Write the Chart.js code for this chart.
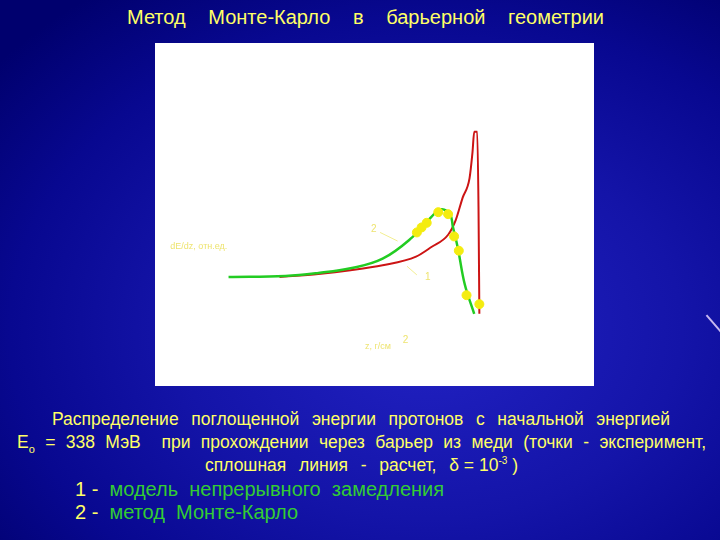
<!DOCTYPE html>
<html>
<head>
<meta charset="utf-8">
<script src="https://cdn.jsdelivr.net/npm/chart.js@4"></script>
<style>
  html, body { margin: 0; padding: 0; }
  body {
    width: 720px; height: 540px; overflow: hidden; position: relative;
    background: radial-gradient(ellipse 560px 420px at 430px 330px, #2222c4 0%, #1414a8 45%, #080890 75%, #00006e 100%);
    font-family: "Liberation Sans", Arial, sans-serif;
  }
  .t { position: absolute; color: #ffff66; white-space: nowrap; }
  .g { color: #33cc33; }
  #panel { position: absolute; left: 155px; top: 43px; width: 439px; height: 343px; background: #fff; }
  .just { text-align: justify; text-align-last: justify; white-space: normal; }
  .ib { display: inline-block; white-space: nowrap; }
  #deco { position: absolute; left: 702px; top: 324px; width: 26px; height: 2px; background: #c8b8f0; transform: rotate(49deg); }
</style>
</head>
<body>
<div class="t just" style="left:127px; top:6px; width:477px; font-size:20px;">Метод Монте-Карло в барьерной геометрии</div>
<div id="panel"><canvas id="chart" width="439" height="343"></canvas></div>
<div class="t just" style="left:52px; top:409px; width:618px; font-size:17.5px;">Распределение поглощенной энергии протонов с начальной энергией</div>
<div class="t just" style="left:17px; top:432px; width:689px; font-size:17.5px;">E<sub style="font-size:11px">o</sub> = 338 МэВ &nbsp;при прохождении&nbsp;через барьер из меди&nbsp;(точки - эксперимент,</div>
<div class="t just" style="left:205px; top:455px; width:313px; font-size:17.5px;">сплошная линия - расчет, <span class="ib">δ = 10<sup style="font-size:10px">-3</sup> )</span></div>
<div class="t" style="left:75px; top:478px; font-size:20px;">1 - &nbsp;<span class="g">модель &nbsp;непрерывного &nbsp;замедления</span></div>
<div class="t" style="left:75px; top:501px; font-size:20px;">2 - &nbsp;<span class="g">метод &nbsp;Монте-Карло</span></div>
<div id="deco"></div>
<script>
// depth (arbitrary units) vs absorbed energy (arbitrary units)
const greenX = [15.9, 29.2, 36.9, 44.4, 51.9, 58.8, 63.3, 65.6, 67.7, 68.3, 69.5, 71.1, 73.3];
const greenY = [31.2, 31.5, 32.4, 33.8, 36.7, 43.1, 49.3, 51.6, 49.9, 46.4, 39.7, 28.9, 20.1];

const redX = [27.8, 36.9, 44.4, 51.9, 59.7, 63.3, 67.2, 69.0, 70.6, 72.2, 72.9, 73.3, 74.0, 74.3, 74.5];
const redY = [31.2, 32.1, 33.2, 34.7, 37.3, 40.2, 43.9, 48.4, 55.1, 60.9, 68.8, 74.9, 74.9, 52.2, 20.1];

const expX = [59.9, 61.0, 62.2, 64.9, 67.2, 68.6, 69.7, 71.5, 74.5];
const expY = [44.6, 46.1, 47.5, 50.7, 50.1, 43.4, 39.1, 25.7, 23.0];

const toPts = (xs, ys) => xs.map((x, i) => ({ x: x, y: ys[i] }));

// faint yellow labels inside the white panel
const labelsPlugin = {
    id: 'labels',
    afterDatasetsDraw(chart) {
        const c = chart.ctx;
        const sx = chart.scales.x, sy = chart.scales.y;
        const px = v => sx.getPixelForValue(v), py = v => sy.getPixelForValue(v);
        c.save();
        c.strokeStyle = '#f2ee90';
        c.fillStyle = '#eee470';
        c.lineWidth = 1;
        c.beginPath();
        c.moveTo(px(51.3), py(44.6)); c.lineTo(px(55.4), py(42.0));
        c.moveTo(px(57.6), py(34.4)); c.lineTo(px(59.9), py(31.8));
        c.stroke();
        c.font = '10px "Liberation Sans", Arial';
        c.textBaseline = 'middle';
        c.fillText('2', px(49.2), py(45.6));
        c.fillText('1', px(61.8), py(31.2));
        c.font = '9px "Liberation Sans", Arial';
        c.fillText('dE/dz, отн.ед.', px(2.3), py(40.5));
        c.fillText('z, г/см', px(47.8), py(10.3));
        c.font = '10px "Liberation Sans", Arial';
        c.fillText('2', px(56.6), py(12.2));
        c.restore();
    }
};

new Chart(document.getElementById('chart'), {
    type: 'scatter',
    data: {
        datasets: [
            {
                label: '1',
                data: toPts(redX, redY),
                showLine: true,
                borderColor: '#cc1414',
                borderWidth: 2,
                pointRadius: 0,
                cubicInterpolationMode: 'monotone',
                order: 3
            },
            {
                label: '2',
                data: toPts(greenX, greenY),
                showLine: true,
                borderColor: '#22cc22',
                borderWidth: 2.5,
                pointRadius: 0,
                tension: 0.4,
                order: 2
            },
            {
                label: 'эксперимент',
                data: toPts(expX, expY),
                showLine: false,
                backgroundColor: '#f4ec10',
                borderColor: '#f4ec10',
                pointRadius: 4.5,
                order: 1
            }
        ]
    },
    options: {
        responsive: false,
        animation: false,
        layout: { padding: 0 },
        scales: {
            x: { type: 'linear', min: 0, max: 100, display: false },
            y: { type: 'linear', min: 0, max: 100, display: false }
        },
        plugins: {
            legend: { display: false },
            tooltip: { enabled: false }
        }
    },
    plugins: [labelsPlugin]
});
</script>
</body>
</html>
